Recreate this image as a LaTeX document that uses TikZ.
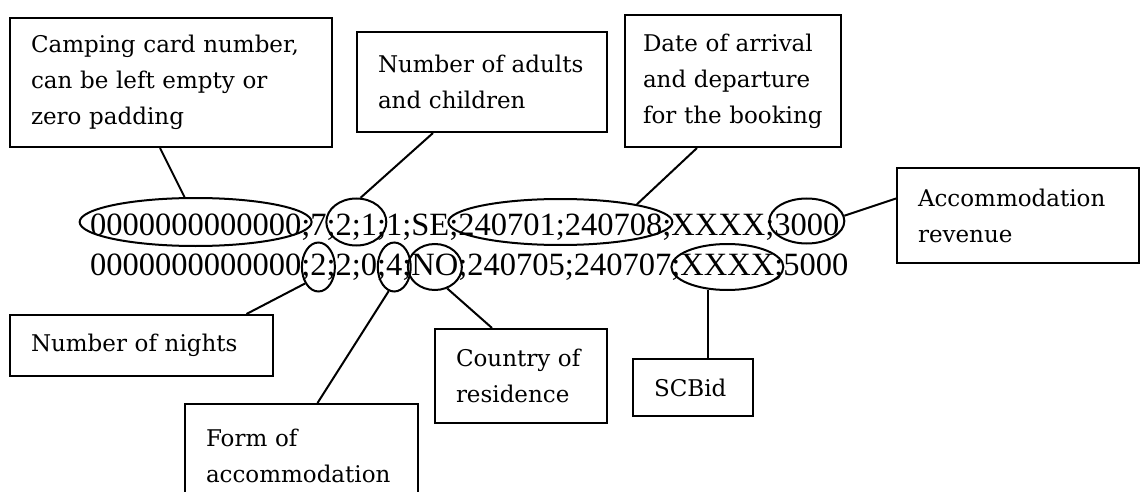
\documentclass[tikz,border=0pt]{standalone}
\usepackage{fontspec}
\setmainfont{DejaVu Serif}
\newfontfamily\rowfont{Liberation Serif}
\usetikzlibrary{positioning}
\usetikzlibrary{shapes.geometric}
\hyphenpenalty=10000

\begin{document}
\begin{tikzpicture}[
		x=1pt,
		y=-1pt,
		line width=2pt
	]
		\tikzstyle{note}=[
			draw,
			align=left,
			inner xsep=21pt,
			font=\fontsize{23}{36}\selectfont
		]
		\tikzstyle{field}=[
			inner sep=0pt,
			outer sep=0pt,
			text height=22pt,
			text depth=0pt,
			font=\rowfont\fontsize{32.5}{36}\selectfont
		]
		\tikzstyle{ring}=[
			ellipse,
			draw,
			inner sep=0pt
		]

		\useasboundingbox (0,0) rectangle (1141,492);
		\clip (0,0) rectangle (1141,492);

		% explanation boxes
		\node[note, text width=280pt, minimum height=129pt] (card) at (171,82.5) {Camping card number,\\can be left empty or\\zero padding};
		\node[note, text width=208pt, minimum height=100pt] (adults) at (482,82) {Number of adults\\and children};
		\node[note, inner xsep=18pt, text width=180pt, minimum height=132pt] (date) at (733,81) {Date of arrival\\and departure\\for the booking};
		\node[note, text width=200pt, minimum height=95pt] (revenue) at (1018,215.5) {Accommodation\\revenue};
		\node[note, text width=221pt, minimum height=61pt] (nights) at (141.5,345.5) {Number of nights};
		\node[note, text width=191pt, minimum height=104pt] (form) at (301.5,456) {Form of\\accommodation};
		\node[note, text width=130pt, minimum height=94pt] (country) at (521,376) {Country of\\residence};
		\node[note, text width=78pt, minimum height=57pt] (scbid) at (693,387.5) {SCBid};

		% first record
		\node[field, anchor=base west] (r1a) at (90,235) {0000000000000};
		\node[field, base right=0pt of r1a] (r1b) {;7;};
		\node[field, base right=0pt of r1b] (r1c) {2;1};
		\node[field, base right=0pt of r1c] (r1d) {;1;SE;};
		\node[field, base right=0pt of r1d] (r1e) {240701;240708};
		\node[field, base right=0pt of r1e] (r1f) {;XXXX;};
		\node[field, base right=0pt of r1f] (r1g) {3000};

		% second record
		\node[field, anchor=base west] (r2a) at (90,275) {0000000000000;};
		\node[field, base right=0pt of r2a] (r2b) {2};
		\node[field, base right=0pt of r2b] (r2c) {;2;0;};
		\node[field, base right=0pt of r2c] (r2d) {4};
		\node[field, base right=0pt of r2d] (r2e) {;};
		\node[field, base right=0pt of r2e] (r2f) {NO};
		\node[field, base right=0pt of r2f] (r2g) {;240705;240707;};
		\node[field, base right=0pt of r2g] (r2h) {XXXX};
		\node[field, base right=0pt of r2h] (r2i) {;5000};

		% rings round the fields
		\node[ring, minimum width=232pt, minimum height=48pt] (o1) at ([yshift=2pt]r1a.center) {};
		\node[ring, minimum width=60pt, minimum height=47pt] (o2) at ([yshift=2pt]r1c.center) {};
		\node[ring, minimum width=224pt, minimum height=46pt] (o3) at ([yshift=2pt]r1e.center) {};
		\node[ring, minimum width=75pt, minimum height=45pt] (o4) at ([yshift=3pt]r1g.center) {};
		\node[ring, minimum width=33pt, minimum height=49pt] (o5) at ([yshift=-3pt]r2b.center) {};
		\node[ring, minimum width=33pt, minimum height=49pt] (o6) at ([yshift=-3pt]r2d.center) {};
		\node[ring, minimum width=54pt, minimum height=46pt] (o7) at ([yshift=-3pt]r2f.center) {};
		\node[ring, minimum width=112pt, minimum height=46pt] (o8) at ([yshift=-3pt]r2h.center) {};

		% leaders
		\draw ([xshift=-11pt]card.south) -- (o1.114);
		\draw ([xshift=-49pt]adults.south) -- (o2.80);
		\draw ([xshift=-36pt]date.south) -- (o3.13);
		\draw (o4.8) -- ([yshift=17pt]revenue.west);
		\draw (o5.231) -- ([xshift=105pt]nights.north);
		\draw (o6.257) -- ([xshift=16pt]form.north);
		\draw (o7.300) -- ([xshift=-29pt]country.north);
		\draw (o8.230) -- (o8.230 |- scbid.north);
	\end{tikzpicture}
\end{document}
